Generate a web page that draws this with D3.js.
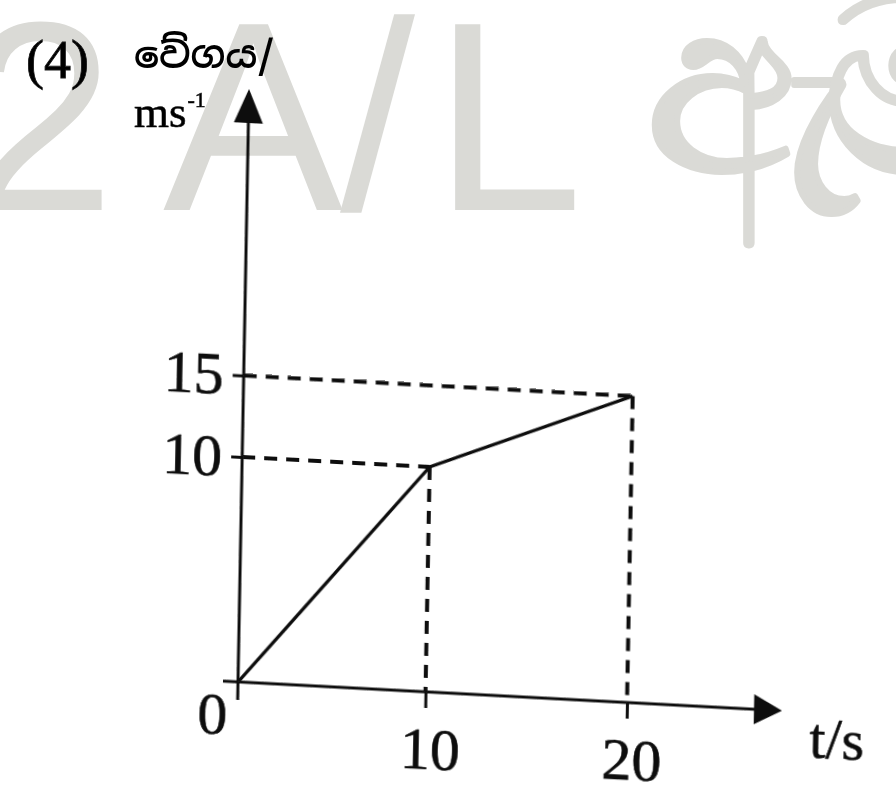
<!DOCTYPE html>
<html><head><meta charset="utf-8">
<script src="https://cdn.jsdelivr.net/npm/d3@7"></script>
<style>html,body{margin:0;padding:0;background:#fff}svg{display:block}</style>
</head><body>
<svg id="chart" width="896" height="805"></svg>
<script>
// ---- data ----
const times = [0, 10, 20];              // t / s
const speeds = [0, 10, 15];             // speed / m s^-1
const timeTicks = [10, 20];
const timeTickLabels = ["10", "20"];
const speedTicks = [10, 15];
const speedTickLabels = ["10", "15"];
const originLabel = "0";
const xLabel = "t/s";
const yLabelWord = "වේගය/";
const yLabelUnit = "ms";
const yLabelExp = "-1";
const questionLabel = "(4)";
const watermarkGlyphs = ["2", "A", "/", "L", "ඇ", "ම"];

// ---- layout ----
const svg = d3.select("#chart");
const O = {x: 238, y: 682};
const kx = -0.0186, ky = 0.053;       // scan skew
const serif = "'Liberation Serif','Times New Roman',serif";

const x = d3.scaleLinear().domain([0, 10, 20]).range([238, 425.5, 627]);
const y = d3.scaleLinear().domain([0, 10, 15]).range([682, 457, 375.5]);

const defs = svg.append("defs");
defs.append("filter").attr("id", "soft").append("feGaussianBlur").attr("stdDeviation", 0.55);

// watermark
const wmX = [-35, 163, 340, 433, 645, 822];
const wmY = [210, 210, 210, 210, 172, 172];
const wmSize = [270, 270, 270, 270, 245, 245];
svg.append("g")
  .attr("fill", "#dadad6").attr("stroke", "#dadad6")
  .style("font-family", "'Liberation Sans',Arial,sans-serif")
  .selectAll("text").data(watermarkGlyphs).join("text")
  .attr("x", (d, i) => wmX[i]).attr("y", (d, i) => wmY[i])
  .attr("stroke-width", (d, i) => i >= 4 ? 6 : 0)
  .attr("stroke-linejoin", "round")
  .style("font-size", (d, i) => wmSize[i] + "px")
  .text(d => d);

const ink = svg.append("g").attr("filter", "url(#soft)");

// header labels
ink.append("text").attr("x", 26).attr("y", 78)
  .attr("stroke", "#111").attr("stroke-width", 0.8)
  .style("font-family", serif).style("font-size", "54px").text(questionLabel);
ink.append("text").attr("x", 134).attr("y", 68)
  .style("font-family", "'Noto Sans Sinhala','Noto Sans',sans-serif").style("font-weight", "600")
  .style("font-size", "38px").text(yLabelWord);
const unit = ink.append("text").attr("x", 134).attr("y", 127)
  .attr("stroke", "#111").attr("stroke-width", 0.6)
  .style("font-family", serif).style("font-size", "45px");
unit.append("tspan").text(yLabelUnit);
unit.append("tspan").attr("dy", -20).attr("dx", 1).style("font-size", "22px").text(yLabelExp);

// skewed plot group
const g = ink.append("g")
  .attr("transform", `matrix(1,${ky},${kx},1,${-kx * O.y},${-ky * O.x})`);

// axes lines
g.append("line").attr("x1", x(0) - 15).attr("x2", 760).attr("y1", y(0)).attr("y2", y(0))
  .attr("stroke", "#111").attr("stroke-width", 3);
g.append("line").attr("x1", x(0)).attr("x2", x(0)).attr("y1", y(0) + 18).attr("y2", 118)
  .attr("stroke", "#111").attr("stroke-width", 3);
// arrowheads
g.append("path").attr("d", `M${782},${y(0)} L${754},${y(0) - 15} L${754},${y(0) + 15} Z`).attr("fill", "#111");
g.append("path").attr("d", `M${x(0)},${89} L${x(0) - 14.5},${123} L${x(0) + 14.5},${123} Z`).attr("fill", "#111");

// ticks via d3 axes
const xAxis = d3.axisBottom(x).tickValues(timeTicks).tickSize(16).tickPadding(18)
  .tickFormat((d, i) => timeTickLabels[i]);
const gx = g.append("g").attr("transform", `translate(0,${y(0)})`).call(xAxis);
gx.select(".domain").remove();
gx.selectAll(".tick line").attr("stroke", "#111").attr("stroke-width", 3);
gx.selectAll(".tick text").attr("fill", "#111").attr("dx", 5)
  .attr("stroke", "#111").attr("stroke-width", 0.6)
  .style("font-family", serif).style("font-size", "60px");

const yAxis = d3.axisLeft(y).tickValues(speedTicks).tickSize(11).tickPadding(9)
  .tickFormat((d, i) => speedTickLabels[i]);
const gy = g.append("g").attr("transform", `translate(${x(0)},0)`).call(yAxis);
gy.select(".domain").remove();
gy.selectAll(".tick line").attr("stroke", "#111").attr("stroke-width", 3);
gy.selectAll(".tick text").attr("fill", "#111")
  .attr("stroke", "#111").attr("stroke-width", 0.6)
  .style("font-family", serif).style("font-size", "60px");

g.append("text").attr("x", x(0) - 25).attr("y", y(0) + 53).attr("text-anchor", "middle")
  .attr("stroke", "#111").attr("stroke-width", 0.6)
  .style("font-family", serif).style("font-size", "60px").attr("fill", "#111").text(originLabel);
g.append("text").attr("x", 810).attr("y", y(0) + 45)
  .attr("stroke", "#111").attr("stroke-width", 0.6)
  .style("font-family", serif).style("font-size", "58px").attr("fill", "#111").text(xLabel);

// dashed guides
const pts = times.map((t, i) => ({t, v: speeds[i]}));
const guides = pts.filter(p => p.t > 0);
g.selectAll("line.h").data(guides).join("line").attr("class", "h")
  .attr("x1", x(0)).attr("x2", d => x(d.t)).attr("y1", d => y(d.v)).attr("y2", d => y(d.v))
  .attr("stroke", "#111").attr("stroke-width", 4).attr("stroke-dasharray", "13,9");
g.selectAll("line.v").data(guides).join("line").attr("class", "v")
  .attr("x1", d => x(d.t)).attr("x2", d => x(d.t)).attr("y1", d => y(d.v)).attr("y2", y(0))
  .attr("stroke", "#111").attr("stroke-width", 4).attr("stroke-dasharray", "13,9");

// the graph
g.append("path").datum(pts)
  .attr("d", d3.line().x(d => x(d.t)).y(d => y(d.v)))
  .attr("fill", "none").attr("stroke", "#111").attr("stroke-width", 3.3)
  .attr("stroke-linejoin", "round");
</script>
</body></html>
